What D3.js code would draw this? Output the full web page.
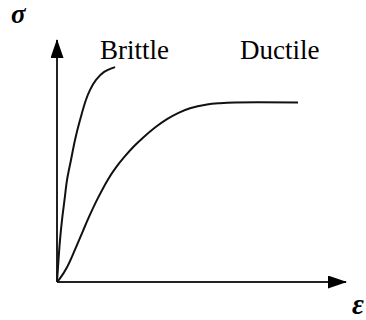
<!DOCTYPE html>
<html>
<head>
<meta charset="utf-8">
<title>Stress-strain</title>
<script src="https://d3js.org/d3.v7.min.js"></script>
<style>
	body { margin: 0; background: #fff; }
	svg text { font-family: "Liberation Serif", "Times New Roman", serif; fill: #000; }
</style>
</head>
<body>
<div id="chart"></div>
<script>
// strain (x) / stress (y), both on a 0..100 sketch scale
var brittleStrain = [0, 0.52, 1.04, 1.73, 2.60, 3.46, 4.84, 6.23, 7.96, 10.0, 11.4, 13.5, 16.3, 20.1];
var brittleStress = [0, 9.1, 17.4, 25.6, 33.9, 42.1, 50.4, 58.7, 66.9, 75.2, 79.3, 83.5, 86.8, 88.8];

var ductileStrain = [0, 1.04, 3.46, 6.23, 9.0, 11.42, 14.19, 17.65, 20.42, 23.53, 26.64, 29.76, 33.91, 38.06, 41.87, 46.02, 51.9, 56.4, 61.59, 83.39];
var ductileStress = [0, 1.49, 6.12, 13.39, 21.16, 27.81, 34.75, 42.4, 47.36, 51.98, 56.07, 59.61, 63.84, 67.31, 69.81, 71.8, 73.35, 73.88, 74.17, 74.17];

var curveNames = ["Brittle", "Ductile"];
var axisNames = ["\u03c3", "\u03b5"];

var width = 366, height = 320;

var x = d3.scaleLinear().domain([0, 100]).range([57, 346]);
var y = d3.scaleLinear().domain([0, 100]).range([282, 40]);

var svg = d3.select("#chart").append("svg")
	.attr("width", width)
	.attr("height", height);

// arrow heads
svg.append("defs").append("marker")
	.attr("id", "arrow")
	.attr("markerUnits", "userSpaceOnUse")
	.attr("markerWidth", 19)
	.attr("markerHeight", 13)
	.attr("refX", 18)
	.attr("refY", 6.5)
	.attr("orient", "auto")
	.append("path")
	.attr("d", "M0,0L19,6.5L0,13Z")
	.attr("fill", "#000");

var axisColor = "#222";

// axes
svg.append("line")
	.attr("x1", x(0)).attr("y1", y(0))
	.attr("x2", x(0)).attr("y2", y(100))
	.attr("stroke", axisColor)
	.attr("stroke-width", 2)
	.attr("marker-end", "url(#arrow)");

svg.append("line")
	.attr("x1", x(0)).attr("y1", y(0))
	.attr("x2", x(100)).attr("y2", y(0))
	.attr("stroke", axisColor)
	.attr("stroke-width", 2)
	.attr("marker-end", "url(#arrow)");

var line = d3.line()
	.x(function(d) { return x(d[0]); })
	.y(function(d) { return y(d[1]); })
	.curve(d3.curveCatmullRom.alpha(0.5));

var series = [
	d3.zip(brittleStrain, brittleStress),
	d3.zip(ductileStrain, ductileStress)
];

svg.selectAll(".curve")
	.data(series)
	.enter()
	.append("path")
	.attr("class", "curve")
	.attr("d", line)
	.attr("fill", "none")
	.attr("stroke", "#111")
	.attr("stroke-width", 2);

// curve labels
svg.append("text")
	.attr("x", 100)
	.attr("y", 59)
	.style("font-size", "27px")
	.text(curveNames[0]);

svg.append("text")
	.attr("x", 240)
	.attr("y", 59)
	.style("font-size", "27px")
	.text(curveNames[1]);

// axis symbols
svg.append("text")
	.attr("x", 11)
	.attr("y", 23)
	.style("font-size", "27px")
	.style("font-weight", "bold")
	.style("font-style", "italic")
	.text(axisNames[0]);

svg.append("text")
	.attr("x", 352)
	.attr("y", 314)
	.style("font-size", "29px")
	.style("font-weight", "bold")
	.style("font-style", "italic")
	.text(axisNames[1]);
</script>
</body>
</html>
